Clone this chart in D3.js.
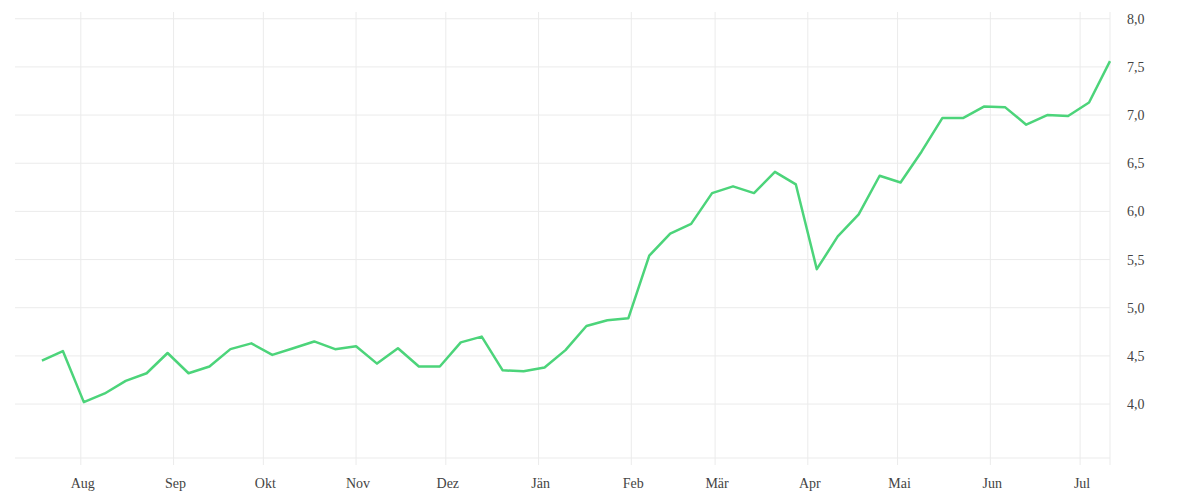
<!DOCTYPE html>
<html><head><meta charset="utf-8">
<script src="https://cdn.jsdelivr.net/npm/d3@7"></script>
<style>body{margin:0;background:#fff}text{font-family:"Liberation Serif","DejaVu Serif",serif}</style>
</head><body><svg id="c" width="1200" height="500"></svg>
<script>
const startDate = "2018-07-19";
const values = [4.45,4.55,4.02,4.11,4.24,4.32,4.53,4.32,4.39,4.57,4.63,4.51,4.58,4.65,4.57,4.60,4.42,4.58,4.39,4.39,4.64,4.70,4.35,4.34,4.38,4.56,4.81,4.87,4.89,5.54,5.77,5.87,6.19,6.26,6.19,6.41,6.28,5.40,5.74,5.97,6.37,6.30,6.62,6.97,6.97,7.09,7.08,6.90,7.00,6.99,7.13,7.56];
const monthLabels = ["Jän","Feb","Mär","Apr","Mai","Jun","Jul","Aug","Sep","Okt","Nov","Dez"];
const yTicks = [4.0,4.5,5.0,5.5,6.0,6.5,7.0,7.5,8.0];

const parse = d3.timeParse("%Y-%m-%d");
const t0 = parse(startDate);
const data = values.map((v,i)=>({d:d3.timeDay.offset(t0,i*7),v}));
const svg = d3.select("#c");
const L=15,R=1110,T=12,B=458;
const x = d3.scaleTime().domain([d3.timeDay.offset(t0,-9), d3.timeDay.offset(data[data.length-1].d,0.7)]).range([L,R]);
const y = d3.scaleLinear().domain([3.44,8.07]).range([B,T]);
const months = d3.timeMonth.range(d3.timeMonth.ceil(x.domain()[0]), x.domain()[1]);
const g = svg.append("g");
g.selectAll(".vg").data(months).join("line").attr("x1",d=>x(d)).attr("x2",d=>x(d)).attr("y1",T).attr("y2",B+7).attr("stroke","#ebebeb");
g.append("line").attr("x1",R).attr("x2",R).attr("y1",T).attr("y2",B+7).attr("stroke","#ebebeb");
g.selectAll(".hg").data(yTicks).join("line").attr("x1",L).attr("x2",R).attr("y1",d=>y(d)).attr("y2",d=>y(d)).attr("stroke","#ebebeb");
g.append("line").attr("x1",L).attr("x2",R).attr("y1",B).attr("y2",B).attr("stroke","#ebebeb");
const fmt = d3.format(".1f");
g.selectAll(".yl").data(yTicks).join("text").attr("x",1127).attr("y",d=>y(d)+5).attr("font-size",14).attr("fill","#444").text(d=>fmt(d).replace(".",","));
g.selectAll(".xl").data(months).join("text").attr("x",d=>x(d)+2).attr("y",488).attr("text-anchor","middle").attr("font-size",14).attr("fill","#444").text(d=>monthLabels[d.getMonth()]);
svg.append("path").datum(data).attr("fill","none").attr("stroke","#4cd47a").attr("stroke-width",2.5).attr("stroke-linejoin","round")
 .attr("d",d3.line().x(d=>x(d.d)).y(d=>y(d.v)));
</script></body></html>
